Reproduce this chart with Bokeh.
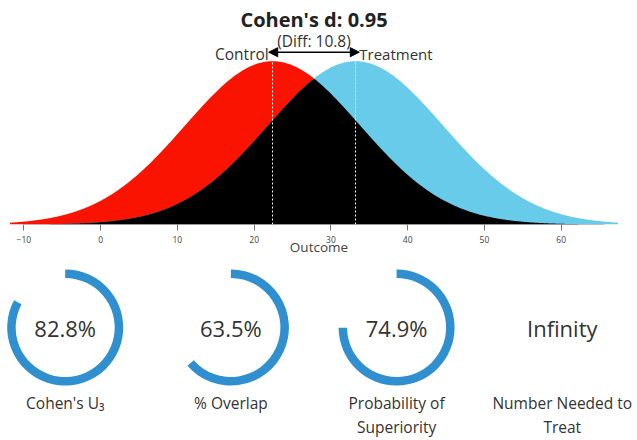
import numpy as np
from bokeh.plotting import figure
from bokeh.layouts import column
from bokeh.models import Range1d, FixedTicker, Arrow, NormalHead, ColumnDataSource
from bokeh.core.properties import value
from bokeh.embed import file_html
from bokeh.resources import INLINE

# ---------------- data ----------------
group_names = ["Control", "Treatment"]
group_means = [22.4, 33.2]
group_sd = 11.4
cohens_d = 0.95
mean_diff = 10.8
x_ticks = [-10, 0, 10, 20, 30, 40, 50, 60]

stat_values = [82.8, 63.5, 74.9]
stat_texts = ["82.8%", "63.5%", "74.9%", "Infinity"]
stat_label_line1 = ["Cohen's U\u2083", "% Overlap", "Probability of", "Number Needed to"]
stat_label_line2 = ["", "", "Superiority", "Treat"]

# ---------------- styles ----------------
FONT = value("Open Sans")
RED = "#fa1400"
BLUE = "#68cbea"
ARC = "#2f8fcf"
TXT = "#333333"

# ---------------- distributions ----------------
mc, mt = group_means
lo = mc - 3 * group_sd
hi = mt + 3 * group_sd
xs = np.linspace(lo, hi, 600)


def pdf(x, m, s):
    return np.exp(-0.5 * ((x - m) / s) ** 2) / (s * np.sqrt(2 * np.pi))


yc = pdf(xs, mc, group_sd)
yt = pdf(xs, mt, group_sd)
yo = np.minimum(yc, yt)
peak = pdf(mc, mc, group_sd)
FRAME_H = 224
PEAK_PX = 163.3
ymax = peak * FRAME_H / PEAK_PX

top = figure(width=637, height=260, output_backend="svg", toolbar_location=None,
             x_range=Range1d(-13.04, 69.94), y_range=Range1d(0, ymax),
             y_axis_location=None, min_border_left=0, min_border_right=0,
             min_border_top=0, min_border_bottom=36, outline_line_color=None)
top.grid.visible = False

top.varea(x=xs, y1=0, y2=yc, fill_color=RED)
top.varea(x=xs, y1=0, y2=yt, fill_color=BLUE)
top.varea(x=xs, y1=0, y2=yo, fill_color="black")
top.segment(x0=group_means, y0=[0, 0], x1=group_means,
            y1=[pdf(m, m, group_sd) for m in group_means],
            line_color="white", line_width=1, line_dash="2 2")

ax = top.xaxis[0]
ax.ticker = FixedTicker(ticks=x_ticks)
ax.axis_line_color = None
ax.major_tick_in = 0
ax.major_tick_out = 6
ax.major_tick_line_color = "#777777"
ax.minor_tick_line_color = None
ax.major_label_text_font = "Open Sans"
ax.major_label_text_font_size = "8.5px"
ax.major_label_text_color = "#444444"
ax.major_label_standoff = 5
ax.axis_label = "Outcome"
ax.axis_label_text_font = "Open Sans"
ax.axis_label_text_font_size = "13.5px"
ax.axis_label_text_font_style = "normal"
ax.axis_label_text_color = "#444444"
ax.axis_label_standoff = -8

mid = (mc + mt) / 2
px_per_y = PEAK_PX / peak


def ypos(page_y):
    return (FRAME_H - page_y) / px_per_y


top.text(x=[mid], y=[ypos(18.5)], text=[f"Cohen's d: {cohens_d:.2f}"],
         text_font=FONT, text_font_size="20px", text_font_style="bold",
         text_align="center", text_baseline="middle", text_color="#222222")
top.text(x=[mid], y=[ypos(40)], text=[f"(Diff: {mean_diff})"],
         text_font=FONT, text_font_size="15.5px",
         text_align="center", text_baseline="middle", text_color=TXT)
top.add_layout(Arrow(x_start=mc - 0.5, y_start=ypos(51.7), x_end=mt + 0.5, y_end=ypos(51.7),
                     line_width=1.5, line_color="black",
                     start=NormalHead(size=9, fill_color="black", line_color="black"),
                     end=NormalHead(size=9, fill_color="black", line_color="black")))
top.text(x=[mc - 0.5], y=[ypos(53)], text=[group_names[0]], text_font=FONT,
         text_font_size="15.5px", text_align="right", text_baseline="middle", text_color=TXT)
top.text(x=[mt + 0.5], y=[ypos(53)], text=[group_names[1]], text_font=FONT,
         text_font_size="15px", text_align="left", text_baseline="middle", text_color=TXT)

# ---------------- stat donuts ----------------
idx = list(range(len(stat_texts)))
bot = figure(width=637, height=180, output_backend="svg", toolbar_location=None,
             x_range=Range1d(-0.3905, 3.454), y_range=Range1d(-113, 67),
             x_axis_location=None, y_axis_location=None,
             min_border=0, outline_line_color=None)
bot.grid.visible = False

src = ColumnDataSource(dict(
    x=idx[:len(stat_values)], y=[0] * len(stat_values),
    start=[np.pi / 2] * len(stat_values),
    end=[np.pi / 2 - 2 * np.pi * v / 100 for v in stat_values]))
bot.annular_wedge(x="x", y="y", inner_radius=49.5, outer_radius=58,
                  inner_radius_units="screen", outer_radius_units="screen",
                  start_angle="start", end_angle="end", direction="clock",
                  fill_color=ARC, line_color=None, source=src)
bot.text(x=idx, y=[0] * 4, text=stat_texts, text_font=FONT, text_font_size="22px",
         text_align="center", text_baseline="middle", text_color=TXT)
bot.text(x=idx, y=[-75.7] * 4, text=stat_label_line1, text_font=FONT, text_font_size="15.5px",
         text_align="center", text_baseline="middle", text_color=TXT)
bot.text(x=idx, y=[-99.7] * 4, text=stat_label_line2, text_font=FONT, text_font_size="15.5px",
         text_align="center", text_baseline="middle", text_color=TXT)

layout = column(top, bot, spacing=0)
open("out.html", "w").write(file_html(layout, INLINE))
